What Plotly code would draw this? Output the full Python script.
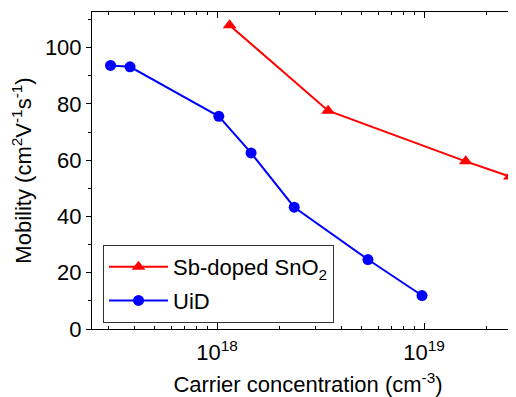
import plotly.graph_objects as go

# Data
uid_conc = [3.06e17, 3.8e17, 1.02e18, 1.46e18, 2.36e18, 5.36e18, 9.78e18]
uid_mob = [93.7, 93.2, 75.6, 62.6, 43.3, 24.7, 11.9]
sb_conc = [1.15e18, 3.44e18, 1.59e19, 2.6e19]
sb_mob = [108.0, 77.6, 59.6, 54.2]

series_names = ["Sb-doped SnO<sub>2</sub>", "UiD"]
x_major_ticks = [1e18, 1e19]
x_major_text = ["10<sup>18</sup>", "10<sup>19</sup>"]

FONT = "Arial, 'Liberation Sans', sans-serif"

minor_vals = [float(m) * 10.0 ** e for e in (17, 18, 19) for m in range(2, 10)]

fig = go.Figure()
fig.add_trace(go.Scatter(
    x=sb_conc, y=sb_mob, name=series_names[0], mode="lines+markers",
    legendgroup="a",
    line=dict(color="#ff0000", width=2),
    marker=dict(symbol="triangle-up", size=12, color="#ff0000"),
    cliponaxis=False,
))
fig.add_trace(go.Scatter(
    x=uid_conc, y=uid_mob, name=series_names[1], mode="lines+markers",
    legendgroup="b",
    line=dict(color="#0000ff", width=2),
    marker=dict(symbol="circle", size=11, color="#0000ff"),
    cliponaxis=False,
))

fig.update_layout(
    width=516, height=397,
    autosize=False,
    margin=dict(l=84, r=0, t=4, b=76, pad=0, autoexpand=False),
    paper_bgcolor="white", plot_bgcolor="white",
    font=dict(family=FONT, size=22, color="black"),
    showlegend=True,
    legend=dict(
        x=0.0255, y=0.142, xanchor="left", yanchor="middle",
        bordercolor="#333333", borderwidth=1, bgcolor="white",
        font=dict(size=22), itemwidth=59,
        traceorder="grouped", tracegroupgap=2,
    ),
    xaxis=dict(
        type="log", range=[17.396, 19.483], automargin=False,
        tickvals=x_major_ticks, ticktext=x_major_text,
        ticks="inside", ticklen=6, tickwidth=1, tickcolor="black",
        showline=True, linecolor="black", linewidth=1, mirror="ticks",
        showgrid=False, zeroline=False,
        ticklabelstandoff=4,
        minor=dict(tickvals=minor_vals, ticks="inside", ticklen=3,
                   tickcolor="black", showgrid=False),
        title=dict(text="Carrier concentration (cm<sup>-3</sup>)", standoff=12,
                   font=dict(size=22)),
        tickfont=dict(size=22),
    ),
    yaxis=dict(
        range=[0, 112.7], tickvals=[0, 20, 40, 60, 80, 100], automargin=False,
        ticks="outside", ticklen=5, tickwidth=1, tickcolor="black",
        showline=True, linecolor="black", linewidth=1,
        showgrid=False, zeroline=False,
        minor=dict(dtick=10, ticks="outside", ticklen=3, tickcolor="black",
                   showgrid=False),
        title=dict(text="Mobility (cm<sup>2</sup>V<sup>-1</sup>s<sup>-1</sup>)",
                   standoff=7, font=dict(size=22)),
        tickfont=dict(size=22),
    ),
)

fig.write_html("out.html")
